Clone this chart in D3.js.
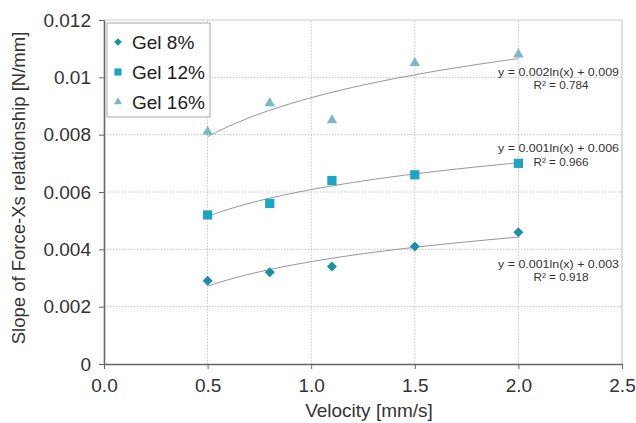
<!DOCTYPE html>
<html>
<head>
<meta charset="utf-8">
<script src="https://cdn.jsdelivr.net/npm/d3@7"></script>
<style>
  body { margin: 0; background: #fff; }
  text { font-family: "Liberation Sans", Arial, sans-serif; }
</style>
</head>
<body>
<svg id="chart"></svg>
<script>
// data
const velocity = [0.5, 0.8, 1.1, 1.5, 2.0];
const gel8 = [0.0029, 0.0032, 0.0034, 0.0041, 0.0046];
const gel12 = [0.0052, 0.0056, 0.0064, 0.0066, 0.0070];
const gel16 = [0.0081, 0.0091, 0.0085, 0.0105, 0.0108];
const seriesNames = ["Gel 8%", "Gel 12%", "Gel 16%"];
const equations = ["y = 0.001ln(x) + 0.003", "y = 0.001ln(x) + 0.006", "y = 0.002ln(x) + 0.009"];
const rSquared = ["R² = 0.918", "R² = 0.966", "R² = 0.784"];
const xTicks = [0, 0.5, 1.0, 1.5, 2.0, 2.5];
const yTicks = [0, 0.002, 0.004, 0.006, 0.008, 0.01, 0.012];

const W = 636, H = 423;
const m = {left: 104, right: 14, top: 20, bottom: 59};

const svg = d3.select("#chart").attr("width", W).attr("height", H);

const x = d3.scaleLinear().domain([0, 2.5]).range([m.left, W - m.right]);
const y = d3.scaleLinear().domain([0, 0.012]).range([H - m.bottom, m.top]);

// grid
svg.append("g").selectAll("line").data(xTicks.slice(1)).join("line")
  .attr("x1", d => x(d)).attr("x2", d => x(d))
  .attr("y1", y(0)).attr("y2", y(0.012))
  .attr("stroke", d => d === 2.5 ? "#bbb" : "#c4c4c4").attr("stroke-dasharray", d => d === 2.5 ? null : "1.5,1.5");
svg.append("g").selectAll("line").data(yTicks.slice(1)).join("line")
  .attr("x1", x(0)).attr("x2", x(2.5))
  .attr("y1", d => y(d)).attr("y2", d => y(d))
  .attr("stroke", d => d === 0.012 ? "#ccc" : "#c4c4c4").attr("stroke-dasharray", d => d === 0.012 ? null : "1.5,1.5");

// axes
const xAxis = svg.append("g").attr("transform", `translate(0,${y(0)})`)
  .call(d3.axisBottom(x).tickValues(xTicks).tickFormat(d3.format(".1f")).tickSize(5).tickSizeOuter(0));
const yAxis = svg.append("g").attr("transform", `translate(${x(0)},0)`)
  .call(d3.axisLeft(y).tickValues(yTicks).tickFormat(d => d === 0 ? "0" : String(+d.toFixed(3))).tickSize(5).tickSizeOuter(0));
[xAxis, yAxis].forEach(a => {
  a.select(".domain").attr("stroke", "#666").attr("stroke-width", 1.6);
  a.selectAll(".tick line").attr("stroke", "#666");
  a.selectAll("text").attr("fill", "#333").style("font-size", "19px")
    .style("font-family", "'Liberation Sans', Arial, sans-serif");
});
xAxis.selectAll("text").attr("y", 28).attr("dy", 0);
yAxis.selectAll("text").attr("x", -13);

svg.append("text").attr("x", (x(0) + x(2.5)) / 2 + 6).attr("y", 417)
  .attr("text-anchor", "middle").attr("fill", "#333").style("font-size", "19px")
  .text("Velocity [mm/s]");
svg.append("text").attr("transform", `translate(25,188) rotate(-90)`)
  .attr("text-anchor", "middle").attr("fill", "#333").style("font-size", "18.5px")
  .text("Slope of Force-Xs relationship [N/mm]");

// log fits from the points
function logFit(xs, ys) {
  const lx = xs.map(Math.log);
  const mx = d3.mean(lx), my = d3.mean(ys);
  const a = d3.sum(lx, (v, i) => (v - mx) * (ys[i] - my)) / d3.sum(lx, v => (v - mx) ** 2);
  return {a, b: my - a * mx};
}

const allSeries = [gel8, gel12, gel16];
const colors = ["#1a90a8", "#1aa5c2", "#7db8c8"];
// diamond = square turned 45deg
const symbols = [d3.symbolSquare, d3.symbolSquare, d3.symbolTriangle];
const rotations = [45, 0, 0];
const sizes = [50, 85, 48];

const fitLine = d3.line().x(d => x(d[0])).y(d => y(d[1])).curve(d3.curveBasis);
allSeries.forEach((vals, i) => {
  const f = logFit(velocity, vals);
  const pts = d3.range(0.5, 2.001, 0.05).map(v => [v, f.a * Math.log(v) + f.b]);
  svg.append("path").attr("d", fitLine(pts))
    .attr("fill", "none").attr("stroke", "#8a8a8a").attr("stroke-width", 0.9);
});

allSeries.forEach((vals, i) => {
  svg.append("g").selectAll("path").data(vals).join("path")
    .attr("transform", (d, j) => `translate(${x(velocity[j])},${y(d)}) rotate(${rotations[i]})`)
    .attr("d", d3.symbol(symbols[i], sizes[i]))
    .attr("fill", colors[i]);
});

// equation labels
const eqY = [[268, 281], [152, 166], [76, 89]];
allSeries.forEach((vals, i) => {
  svg.append("text").attr("x", 619).attr("y", eqY[i][0]).attr("text-anchor", "end")
    .attr("fill", "#333").style("font-size", "11px")
    .attr("textLength", 121).attr("lengthAdjust", "spacingAndGlyphs").text(equations[i]);
  svg.append("text").attr("x", 561).attr("y", eqY[i][1]).attr("text-anchor", "middle")
    .attr("fill", "#333").style("font-size", "11px")
    .attr("textLength", 55).attr("lengthAdjust", "spacingAndGlyphs").text(rSquared[i]);
});

// legend
const lg = svg.append("g").attr("transform", "translate(107,23)");
lg.append("rect").attr("width", 103).attr("height", 94)
  .attr("fill", "#fff").attr("stroke", "#aaa");
seriesNames.forEach((name, i) => {
  const yy = 19 + i * 30;
  lg.append("path").attr("transform", `translate(11,${yy}) rotate(${rotations[i]})`)
    .attr("d", d3.symbol(symbols[i], sizes[i] * 0.6)).attr("fill", colors[i]);
  lg.append("text").attr("x", 25).attr("y", yy + 7).attr("fill", "#222")
    .style("font-size", "19px").text(name);
});
</script>
</body>
</html>
